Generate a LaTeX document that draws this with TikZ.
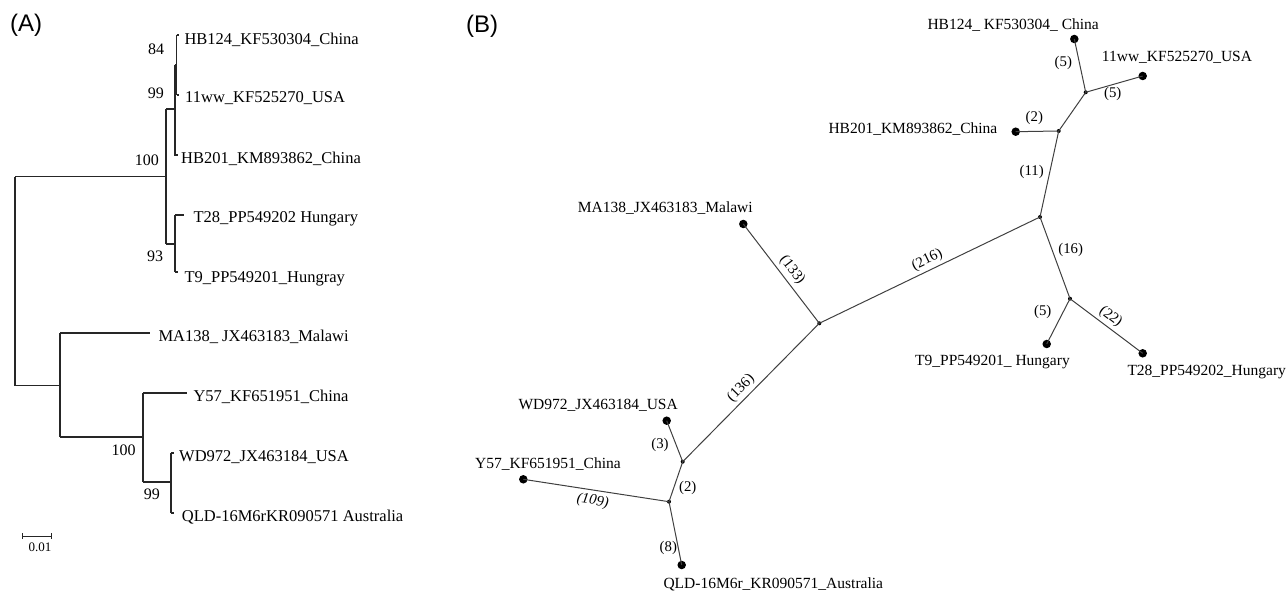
\documentclass[tikz,border=0pt]{standalone}
\usepackage{fontspec}
\setmainfont{Liberation Serif}
\newfontfamily\panelfont{Liberation Sans}
\begin{document}
\begin{tikzpicture}[x=1pt,y=-1pt,
  tree/.style={draw=black!85, line width=1.3pt},
  net/.style={draw=black!75, line width=1pt},
  leafA/.style={anchor=base west, inner sep=0, font={\fontsize{16.5}{18}\selectfont}},
  boot/.style={anchor=base east, inner sep=0, font={\fontsize{16}{18}\selectfont}},
  leafdot/.style={circle, fill=black, inner sep=0, minimum size=8.5pt},
  intdot/.style={circle, fill=black, inner sep=0, minimum size=4pt},
  taxon/.style={anchor=base west, inner sep=0, font={\fontsize{15.5}{18}\selectfont}},
  elab/.style={inner sep=0, font={\fontsize{14.8}{16}\selectfont}},
  panel/.style={anchor=base west, inner sep=0, font={\panelfont\fontsize{24}{26}\selectfont}}]
\useasboundingbox (0,0) rectangle (1287,593);

% ---------------- Panel A ----------------
\node[panel] (pa) at (10,31.7) {(A)};
% root
\draw[tree] (15,176.7) -- (15,385.7);
\draw[tree] (15,176.7) -- (166,176.7);
\draw[tree] (15,385.7) -- (60,385.7);
% upper clade
\draw[tree] (166,109) -- (166,244);
\draw[tree] (166,109) -- (175,109);
\draw[tree] (175,65) -- (175,155) -- (178,155);
\draw[tree] (175,65) -- (176.5,65);
\draw[tree] (176.5,35) -- (176.5,95);
\draw[tree] (176.5,35) -- (179,35);
\draw[tree] (176.5,95) -- (179,95);
\draw[tree] (166,244) -- (175,244);
\draw[tree] (175,215) -- (175,272);
\draw[tree] (175,215) -- (184,215);
\draw[tree] (175,272) -- (178,272);
% lower clade
\draw[tree] (60,333) -- (60,437);
\draw[tree] (60,333) -- (150,333);
\draw[tree] (60,437) -- (143,437);
\draw[tree] (143,393) -- (143,482);
\draw[tree] (143,393) -- (187,393);
\draw[tree] (143,482) -- (171,482);
\draw[tree] (171,453) -- (171,513);
\draw[tree] (171,453) -- (174,453);
\draw[tree] (171,513) -- (174,513);
% scale bar
\draw[tree, line width=1pt] (22,536) -- (51,536);
\draw[tree, line width=1pt] (22,533) -- (22,539);
\draw[tree, line width=1pt] (51,533) -- (51,539);
\node[anchor=base west, inner sep=0, font={\fontsize{13}{14}\selectfont}] (sc) at (28.3,551.7) {0.01};

% taxa A
\node[leafA] (a1) at (184.3,44.3) {HB124\_KF530304\_China};
\node[leafA] (a2) at (185,102.3) {11ww\_KF525270\_USA};
\node[leafA] (a3) at (181,163.3) {HB201\_KM893862\_China};
\node[leafA] (a4) at (193.3,222.7) {T28\_PP549202 Hungary};
\node[leafA] (a5) at (184.3,282.7) {T9\_PP549201\_Hungray};
\node[leafA] (a6) at (158.3,341.7) {MA138\_ JX463183\_Malawi};
\node[leafA] (a7) at (193.3,401.7) {Y57\_KF651951\_China};
\node[leafA] (a8) at (179,461.7) {WD972\_JX463184\_USA};
\node[leafA] (a9) at (181.7,521) {QLD-16M6rKR090571 Australia};
% bootstrap
\node[boot] (b1) at (164.3,55) {84};
\node[boot] (b2) at (164,98.3) {99};
\node[boot] (b3) at (159,165.7) {100};
\node[boot] (b4) at (163.3,261.7) {93};
\node[boot] (b5) at (135.7,455) {100};
\node[boot] (b6) at (160,499) {99};

% ---------------- Panel B ----------------
\node[panel] (pb) at (466,32.7) {(B)};

\node[leafdot] (hb124) at (1074.3,39) {};
\node[leafdot] (ww) at (1142.7,76) {};
\node[intdot] (n1) at (1085.7,92.3) {};
\node[leafdot] (hb201) at (1015.7,131.7) {};
\node[intdot] (n2) at (1058.7,131) {};
\node[intdot] (n3) at (1040,217) {};
\node[intdot] (n4) at (1070,298.7) {};
\node[leafdot] (t9) at (1046.7,344) {};
\node[leafdot] (t28) at (1142.7,353.3) {};
\node[intdot] (n5) at (819.3,323.3) {};
\node[leafdot] (ma) at (743.3,224) {};
\node[intdot] (n6) at (682.7,461.7) {};
\node[leafdot] (wd) at (666.7,420.7) {};
\node[intdot] (n7) at (669,501.7) {};
\node[leafdot] (y57) at (523.3,479.3) {};
\node[leafdot] (qld) at (681.7,565) {};

\draw[net] (hb124.center) -- (n1.center);
\draw[net] (ww.center) -- (n1.center);
\draw[net] (n1.center) -- (n2.center);
\draw[net] (hb201.center) -- (n2.center);
\draw[net] (n2.center) -- (n3.center);
\draw[net] (n3.center) -- (n4.center);
\draw[net] (n4.center) -- (t9.center);
\draw[net] (n4.center) -- (t28.center);
\draw[net] (n3.center) -- (n5.center);
\draw[net] (ma.center) -- (n5.center);
\draw[net] (n5.center) -- (n6.center);
\draw[net] (wd.center) -- (n6.center);
\draw[net] (n6.center) -- (n7.center);
\draw[net] (y57.center) -- (n7.center);
\draw[net] (n7.center) -- (qld.center);

% edge labels
\node[elab] (e1) at (1063.3,63.3) {(5)};
\node[elab] (e2) at (1112.7,94) {(5)};
\node[elab] (e3) at (1034.3,118.3) {(2)};
\node[elab] (e4) at (1031.7,172.3) {(11)};
\node[elab, rotate=25.7] (e5) at (927.3,260) {(216)};
\node[elab] (e6) at (1070.7,250) {(16)};
\node[elab] (e7) at (1042.7,311.7) {(5)};
\node[elab, rotate=-37] (e8) at (1110.7,316.7) {(22)};
\node[elab, rotate=-52.6] (e9) at (792.3,270) {(133)};
\node[elab, rotate=45.4] (e10) at (741,388.3) {(136)};
\node[elab] (e11) at (660,445) {(3)};
\node[elab] (e12) at (687.7,488.3) {(2)};
\node[elab, rotate=-8.7, font={\fontsize{14.8}{16}\selectfont\itshape}] (e13) at (592.7,501) {(109)};
\node[elab] (e14) at (668.3,548.3) {(8)};

% taxa B
\node[taxon] (l1) at (927.3,30) {HB124\_ KF530304\_ China};
\node[taxon] (l2) at (1101.7,61.7) {11ww\_KF525270\_USA};
\node[taxon] (l3) at (828.3,133.3) {HB201\_KM893862\_China};
\node[taxon] (l4) at (915,365) {T9\_PP549201\_ Hungary};
\node[taxon] (l5) at (1127.3,375) {T28\_PP549202\_Hungary};
\node[taxon] (l6) at (577.7,212.3) {MA138\_JX463183\_Malawi};
\node[taxon] (l7) at (518.3,409.3) {WD972\_JX463184\_USA};
\node[taxon] (l8) at (475,468.3) {Y57\_KF651951\_China};
\node[taxon] (l9) at (663.3,588.3) {QLD-16M6r\_KR090571\_Australia};
\end{tikzpicture}
\end{document}
